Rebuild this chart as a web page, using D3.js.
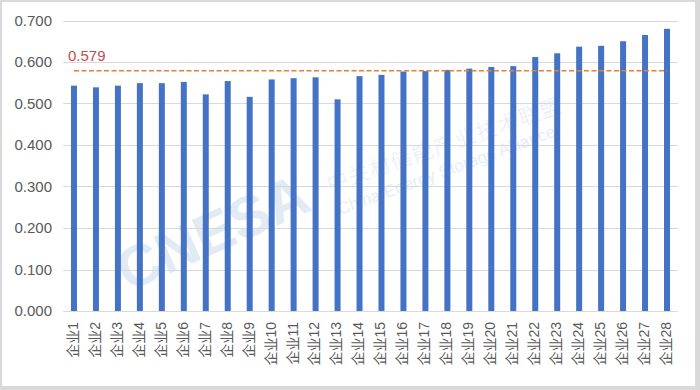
<!DOCTYPE html>
<html><head><meta charset="utf-8">
<script src="https://cdn.jsdelivr.net/npm/d3@7/dist/d3.min.js"></script>
<style>html,body{margin:0;padding:0;background:#d9d9d9;}svg{display:block;}</style>
</head><body>
<svg id="chart" width="700" height="390"></svg>
<script>
const categories = ["企业1","企业2","企业3","企业4","企业5","企业6","企业7","企业8","企业9","企业10","企业11","企业12","企业13","企业14","企业15","企业16","企业17","企业18","企业19","企业20","企业21","企业22","企业23","企业24","企业25","企业26","企业27","企业28"];
const values = [0.543,0.539,0.543,0.549,0.549,0.552,0.522,0.554,0.516,0.558,0.561,0.563,0.510,0.566,0.569,0.577,0.578,0.581,0.584,0.588,0.590,0.612,0.621,0.637,0.639,0.650,0.665,0.680];
const averageValue = 0.579;
const averageLabel = "0.579";
const yTicks = [0,0.1,0.2,0.3,0.4,0.5,0.6,0.7];

const svg = d3.select("#chart");
svg.append("rect").attr("x",2).attr("y",2).attr("width",693).attr("height",384).attr("fill","#fff");

const plotLeft = 63, plotRight = 678, plotTop = 20.5, plotBottom = 311;
const x = d3.scaleBand().domain(categories).range([plotLeft,plotRight]).paddingInner(0.727).paddingOuter(0.3635);
const y = d3.scaleLinear().domain([0,0.7]).range([plotBottom,plotTop]);

// watermark
const wm = svg.append("g").attr("font-family","Liberation Sans, Arial, sans-serif");
wm.append("text").attr("transform","translate(128,292) rotate(-24)")
  .attr("font-size",58).attr("font-weight","bold").attr("fill","#e2eaf3").text("CNESA");
wm.append("text").attr("transform","translate(330,192) rotate(-19)")
  .attr("font-size",21).attr("letter-spacing",1.5).attr("font-family","Noto Sans CJK SC").attr("font-weight",300).attr("fill","#e6edf5").text("中关村储能产业技术联盟");
wm.append("text").attr("transform","translate(340,215) rotate(-20)")
  .attr("font-size",17).attr("fill","#e6edf5").text("China Energy Storage Alliance");

// gridlines
svg.append("g").selectAll("line").data(yTicks).join("line")
  .attr("x1",plotLeft).attr("x2",plotRight)
  .attr("y1",d=>Math.round(y(d))+0.5).attr("y2",d=>Math.round(y(d))+0.5)
  .attr("stroke","#d9d9d9").attr("stroke-width",1);

// y labels
svg.append("g").selectAll("text").data(yTicks).join("text")
  .attr("x",52).attr("y",d=>y(d)).attr("dy","0.35em")
  .attr("text-anchor","end").attr("font-family","Liberation Sans, Arial, sans-serif")
  .attr("font-size",15).attr("fill","#595959").text(d=>d3.format(".3f")(d));

// bars
svg.append("g").selectAll("rect").data(values).join("rect")
  .attr("x",(d,i)=>x(categories[i])).attr("width",x.bandwidth())
  .attr("y",d=>y(d)).attr("height",d=>y(0)-y(d)).attr("fill","#4472c4");

// average line
const x0 = x(categories[0])+x.bandwidth()/2, x1 = x(categories[categories.length-1])+x.bandwidth()/2;
svg.append("line").attr("x1",x0).attr("x2",x1).attr("y1",y(averageValue)).attr("y2",y(averageValue))
  .attr("stroke","#ed7d31").attr("stroke-width",1.6).attr("stroke-dasharray","5,2.5");
svg.append("text").attr("x",68).attr("y",61).attr("font-family","Liberation Sans, Arial, sans-serif")
  .attr("font-size",15).attr("fill","#c0504d").text(averageLabel);

// x labels
svg.append("g").selectAll("text").data(categories).join("text")
  .attr("transform",d=>`translate(${x(d)+x.bandwidth()/2 - 1},322) rotate(-90)`)
  .attr("dy","0.35em").attr("text-anchor","end")
  .attr("font-family","Liberation Sans, Noto Sans CJK SC, sans-serif")
  .attr("font-size",14).attr("fill","#595959").text(d=>d);
</script>
</body></html>
